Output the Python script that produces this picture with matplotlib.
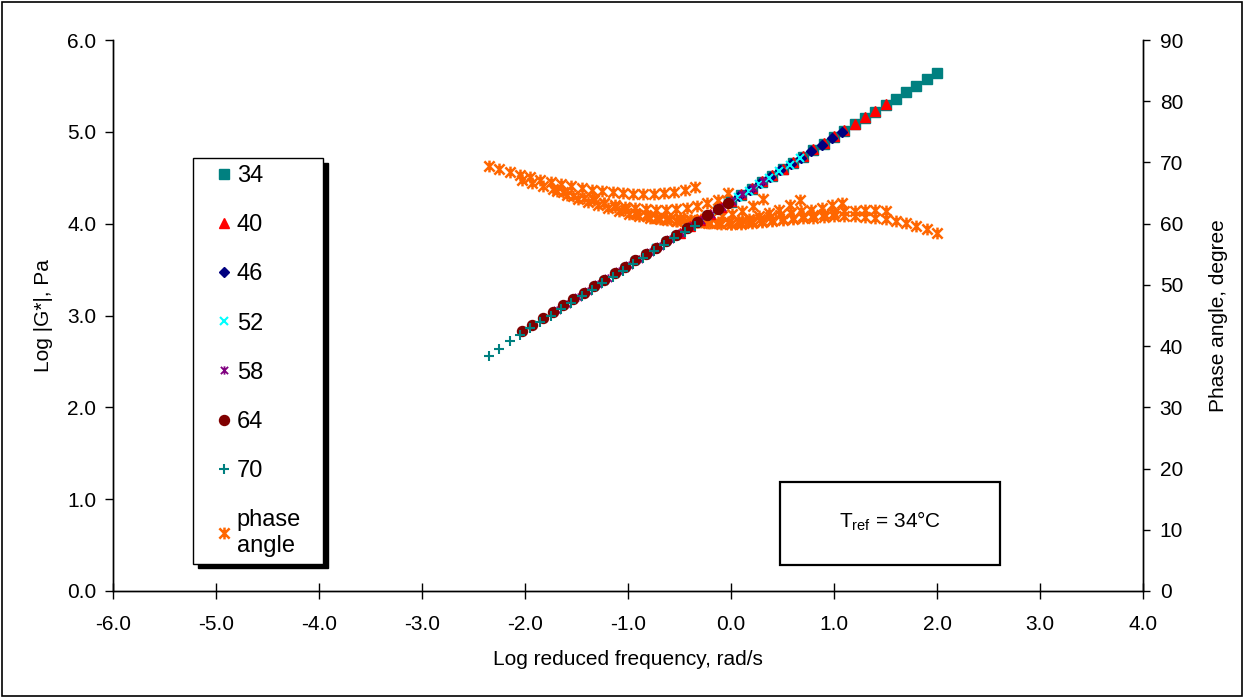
import matplotlib
matplotlib.use("Agg")
import matplotlib.pyplot as plt
from matplotlib.path import Path
from matplotlib.patches import Rectangle
from matplotlib.ticker import FormatStrFormatter

plt.rcParams['font.family'] = ['Liberation Sans', 'DejaVu Sans']

# test temperatures (C) and horizontal shift factors log(aT), Tref = 34 C
temps = ['34', '40', '46', '52', '58', '64', '70']
log_aT = [0.00, -0.50, -0.92, -1.33, -1.69, -2.03, -2.35]

# log angular frequency of the sweep, rad/s
log_w = [0.0, 0.1, 0.2, 0.3, 0.4, 0.5, 0.6, 0.7, 0.8, 0.9, 1.0,
         1.1, 1.2, 1.3, 1.4, 1.5, 1.6, 1.7, 1.8, 1.9, 2.0]

# log |G*|, Pa
g_34 = [4.24, 4.31, 4.38, 4.45, 4.52, 4.59, 4.66, 4.73, 4.80, 4.87, 4.94,
        5.01, 5.08, 5.15, 5.22, 5.29, 5.36, 5.43, 5.50, 5.57, 5.64]
g_40 = [3.90, 3.97, 4.04, 4.11, 4.18, 4.25, 4.32, 4.39, 4.46, 4.53, 4.60,
        4.67, 4.74, 4.81, 4.88, 4.95, 5.02, 5.09, 5.16, 5.23, 5.30]
g_46 = [3.60, 3.67, 3.74, 3.81, 3.88, 3.95, 4.02, 4.09, 4.16, 4.23, 4.30,
        4.37, 4.44, 4.51, 4.58, 4.65, 4.72, 4.79, 4.86, 4.93, 5.00]
g_52 = [3.31, 3.38, 3.45, 3.52, 3.59, 3.66, 3.73, 3.80, 3.87, 3.94, 4.01,
        4.08, 4.15, 4.22, 4.29, 4.36, 4.43, 4.50, 4.57, 4.64, 4.71]
g_58 = [3.06, 3.13, 3.20, 3.27, 3.34, 3.41, 3.48, 3.55, 3.62, 3.69, 3.76,
        3.83, 3.90, 3.97, 4.04, 4.11, 4.18, 4.25, 4.32, 4.39, 4.46]
g_64 = [2.83, 2.90, 2.97, 3.04, 3.11, 3.18, 3.25, 3.32, 3.39, 3.46, 3.53,
        3.60, 3.67, 3.74, 3.81, 3.88, 3.95, 4.02, 4.09, 4.16, 4.23]
g_70 = [2.56, 2.64, 2.72, 2.79, 2.86, 2.93, 3.00, 3.07, 3.14, 3.21, 3.28,
        3.35, 3.42, 3.49, 3.56, 3.63, 3.70, 3.77, 3.84, 3.91, 3.98]

# phase angle, degree
d_34 = [60.0, 60.0, 60.1, 60.2, 60.4, 60.6, 60.8, 60.9, 61.0, 61.1, 61.2,
        61.2, 61.2, 61.1, 60.9, 60.7, 60.4, 60.1, 59.7, 59.2, 58.5]
d_40 = [61.0, 60.6, 60.3, 60.1, 60.0, 60.0, 60.1, 60.2, 60.4, 60.6, 60.8,
        61.0, 61.2, 61.4, 61.6, 61.8, 62.0, 62.1, 62.2, 62.2, 62.1]
d_46 = [61.6, 61.2, 60.9, 60.6, 60.4, 60.3, 60.2, 60.1, 60.1, 60.2, 60.3,
        60.5, 60.8, 61.1, 61.4, 61.7, 62.0, 62.3, 62.6, 63.0, 63.4]
d_52 = [64.0, 63.4, 62.8, 62.3, 61.8, 61.4, 61.0, 60.7, 60.5, 60.3, 60.2,
        60.2, 60.2, 60.3, 60.5, 60.8, 61.2, 61.7, 62.3, 63.0, 63.9]
d_58 = [65.3, 64.7, 64.1, 63.5, 63.0, 62.5, 62.0, 61.6, 61.3, 61.0, 60.8,
        60.7, 60.6, 60.6, 60.7, 60.9, 61.2, 61.6, 62.1, 62.9, 64.0]
d_64 = [67.1, 66.6, 66.1, 65.6, 65.1, 64.6, 64.2, 63.8, 63.4, 63.1, 62.8,
        62.6, 62.4, 62.3, 62.3, 62.4, 62.6, 62.9, 63.3, 63.9, 65.0]
d_70 = [69.4, 68.9, 68.4, 68.0, 67.6, 67.2, 66.8, 66.4, 66.1, 65.8, 65.5,
        65.3, 65.1, 65.0, 64.9, 64.9, 64.9, 65.0, 65.2, 65.5, 66.0]

g_all = [g_34, g_40, g_46, g_52, g_58, g_64, g_70]
d_all = [d_34, d_40, d_46, d_52, d_58, d_64, d_70]

# excel style "star" marker: an x with a vertical bar through it
STAR = Path([(-1, -1), (1, 1), (-1, 1), (1, -1), (0, -1.15), (0, 1.15)],
            [Path.MOVETO, Path.LINETO] * 3)

styles = [
    dict(marker='s', color='#008080', ms=7.0),
    dict(marker='^', color='#FF0000', ms=7.5),
    dict(marker='D', color='#000080', ms=5.5),
    dict(marker='x', color='#00FFFF', ms=6.0, mew=1.5),
    dict(marker=STAR, color='#800080', ms=6.0, mew=1.3),
    dict(marker='o', color='#800000', ms=7.2),
    dict(marker='+', color='#008080', ms=7.5, mew=1.5),
]
PHASE_COLOR = '#FF6600'
FS = 15


def main():
    W, H = 1244, 698
    fig = plt.figure(figsize=(W / 100, H / 100), dpi=100)
    ax = fig.add_axes([113 / W, 1 - 591 / H, 1030 / W, 551 / H])
    ax2 = ax.twinx()
    # primary series drawn above the phase angle
    ax.set_zorder(ax2.get_zorder() + 1)
    ax.patch.set_visible(False)

    handles = []
    for T, shift, g, st in zip(temps, log_aT, g_all, styles):
        x = [w + shift for w in log_w]
        h, = ax.plot(x, g, linestyle='none', marker=st['marker'], ms=st['ms'],
                     mfc=st['color'], mec=st['color'], mew=st.get('mew', 1.0),
                     label=T)
        handles.append(h)

    xs, ds = [], []
    for shift, d in zip(log_aT, d_all):
        xs += [w + shift for w in log_w]
        ds += d
    hp, = ax2.plot(xs, ds, linestyle='none', marker=STAR, ms=8.5, mew=1.8,
                   mfc='none', mec=PHASE_COLOR, label='phase\nangle')
    handles.append(hp)

    ax.set_xlim(-6, 4)
    ax.set_ylim(0, 6)
    ax2.set_ylim(0, 90)
    ax.set_xticks(range(-6, 5))
    ax.set_yticks(range(0, 7))
    ax2.set_yticks(range(0, 91, 10))
    ax.xaxis.set_major_formatter(FormatStrFormatter('%.1f'))
    ax.yaxis.set_major_formatter(FormatStrFormatter('%.1f'))

    for a in (ax, ax2):
        a.spines['top'].set_visible(False)
        for s in a.spines.values():
            s.set_linewidth(1.0)
    ax.tick_params(axis='x', direction='inout', length=12, width=1,
                   labelsize=FS, pad=11)
    ax.tick_params(axis='y', direction='out', length=6, width=1,
                   labelsize=FS, pad=6)
    ax2.tick_params(axis='y', direction='out', length=5, width=1,
                    labelsize=FS, pad=7)

    ax.set_xlabel('Log reduced frequency, rad/s', fontsize=FS, labelpad=12)
    ax.set_ylabel('Log |G*|, Pa', fontsize=FS, labelpad=10)
    ax2.set_ylabel('Phase angle, degree', fontsize=FS, labelpad=19)

    leg = ax.legend(handles=handles, loc='upper left',
                    bbox_to_anchor=(193 / W, 1 - 558 / H, 130 / W, 400 / H),
                    bbox_transform=fig.transFigure, mode='expand',
                    borderaxespad=0, fontsize=17, labelspacing=1.15,
                    handlelength=2.0, handletextpad=-0.45, borderpad=0.3,
                    fancybox=False, edgecolor='black', framealpha=1,
                    shadow={'color': 'black', 'alpha': 1, 'ox': 3.5, 'oy': -3.5})
    leg.get_frame().set_linewidth(1.0)

    # reference temperature note
    ax.add_patch(Rectangle((0.6476, 0.0472), 0.2136, 0.1506,
                           transform=ax.transAxes, fill=False,
                           edgecolor='black', lw=1.6))
    ax.text(0.754, 0.127, r'T$_{\mathregular{ref}}$ = 34°C',
            transform=ax.transAxes, ha='center', va='center', fontsize=FS)

    # chart border
    fig.add_artist(Rectangle((0.002, 0.003), 0.996, 0.994,
                             transform=fig.transFigure, fill=False,
                             edgecolor='black', lw=1.2))

    fig.savefig('out.png', dpi=100)


main()
